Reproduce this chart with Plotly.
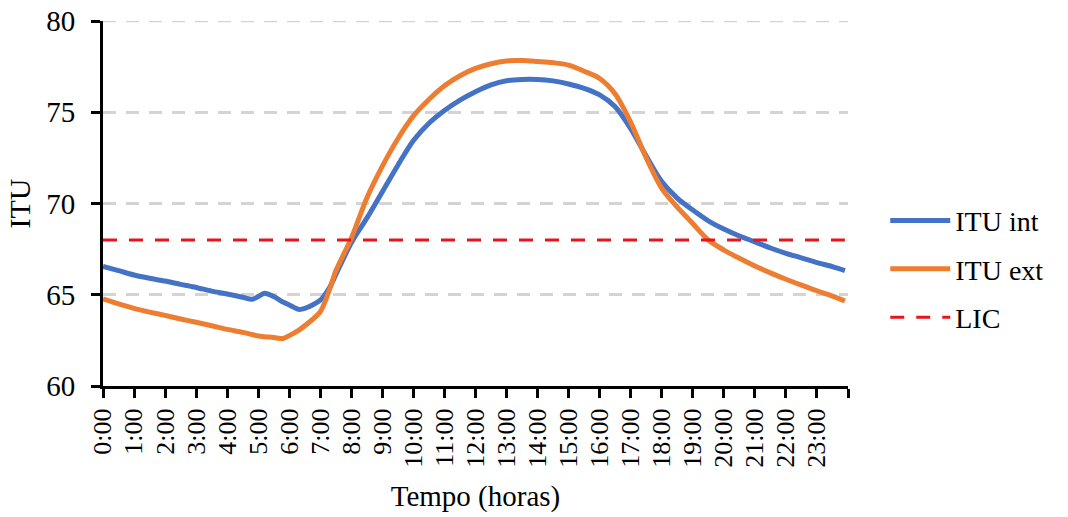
import plotly.graph_objects as go

# Hours of the day (decimal hours)
times = [0, 0.5, 1, 1.5, 2, 2.5, 3, 3.5, 4, 4.5, 4.8, 5, 5.2, 5.5, 5.8, 6, 6.3, 6.5, 7, 7.3, 7.5,
         8, 8.5, 9, 9.5, 10, 10.5, 11, 11.5, 12, 12.5, 13, 13.5, 14, 14.5, 15, 15.5, 16, 16.5,
         17, 17.5, 18, 18.5, 19, 19.5, 20, 20.5, 21, 21.5, 22, 22.5, 23, 23.5, 23.9]

itu_int = [66.55, 66.32, 66.08, 65.9, 65.75, 65.57, 65.4, 65.2, 65.04, 64.86, 64.75, 64.9, 65.08,
           64.9, 64.6, 64.44, 64.2, 64.25, 64.7, 65.4, 66.1, 67.85, 69.2, 70.65, 72.1, 73.45, 74.4,
           75.1, 75.67, 76.13, 76.5, 76.73, 76.8, 76.8, 76.72, 76.55, 76.31, 75.95, 75.3, 74.1,
           72.6, 71.2, 70.3, 69.64, 69.05, 68.6, 68.22, 67.9, 67.56, 67.27, 67.02, 66.76, 66.54,
           66.32]

itu_ext = [64.77, 64.5, 64.25, 64.05, 63.87, 63.67, 63.49, 63.3, 63.1, 62.94, 62.82, 62.74, 62.7,
           62.66, 62.6, 62.76, 63.05, 63.3, 64.07, 65.3, 66.3, 68.1, 70.3, 72.05, 73.55, 74.8,
           75.7, 76.45, 77.0, 77.4, 77.66, 77.81, 77.83, 77.78, 77.72, 77.58, 77.25, 76.85, 76.0,
           74.45, 72.5, 70.83, 69.8, 68.9, 68.0, 67.45, 67.0, 66.58, 66.2, 65.85, 65.53, 65.22,
           64.93, 64.66]

lic_value = 68

y_ticks = [60, 65, 70, 75, 80]
tick_hours = list(range(0, 25))
tick_labels = [f"{h}:00" for h in range(24)] + [""]

FONT = "Liberation Serif"
GRID = "#D4D4D4"

fig = go.Figure()
fig.add_trace(go.Scatter(x=times, y=itu_int, mode="lines", name="ITU int",
                         line=dict(color="#4472C4", width=5, shape="spline", smoothing=0.8),
                         legendgroup="a"))
fig.add_trace(go.Scatter(x=times, y=itu_ext, mode="lines", name="ITU ext",
                         line=dict(color="#ED7D31", width=5, shape="spline", smoothing=0.8),
                         legendgroup="b"))
fig.add_trace(go.Scatter(x=[times[0], times[-1]], y=[lic_value, lic_value], mode="lines", name="LIC",
                         line=dict(color="#E8141B", width=3, dash="14px,12px"),
                         legendgroup="c"))

fig.update_layout(
    width=1068, height=517,
    margin=dict(l=103, r=220, t=21, b=131, autoexpand=False),
    paper_bgcolor="white", plot_bgcolor="white",
    font=dict(family=FONT, color="black", size=28),
    showlegend=True,
    legend=dict(x=1.05, y=0.32, xanchor="left", yanchor="middle",
                font=dict(family=FONT, size=28, color="black"),
                traceorder="grouped", tracegroupgap=9, itemwidth=60,
                bgcolor="rgba(0,0,0,0)"),
)

# top gridline (at the edge of the range)
fig.add_hline(y=y_ticks[-1], line=dict(color=GRID, width=2.5, dash="13px,10px"), layer="below")

fig.update_xaxes(
    range=[0, 24], tickmode="array", tickvals=tick_hours, ticktext=tick_labels,
    tickangle=-90, tickfont=dict(family=FONT, size=26, color="black"),
    showline=True, linecolor="black", linewidth=3,
    ticks="outside", ticklen=9, tickwidth=2.5, tickcolor="black",
    showgrid=False, zeroline=False, automargin=False,
    title=dict(text="Tempo (horas)", font=dict(family=FONT, size=29, color="black"), standoff=20),
)

fig.update_yaxes(
    range=[60, 80], tickmode="array", tickvals=y_ticks,
    tickfont=dict(family=FONT, size=29, color="black"),
    showline=True, linecolor="black", linewidth=3,
    ticks="outside", ticklen=9, tickwidth=2.5, tickcolor="black",
    ticklabelstandoff=10,
    showgrid=True, gridcolor=GRID, gridwidth=2.5, griddash="13px,10px",
    zeroline=False, automargin=False,
    title=dict(text="ITU", font=dict(family=FONT, size=30, color="black"), standoff=7),
)

fig.write_html("out.html")
